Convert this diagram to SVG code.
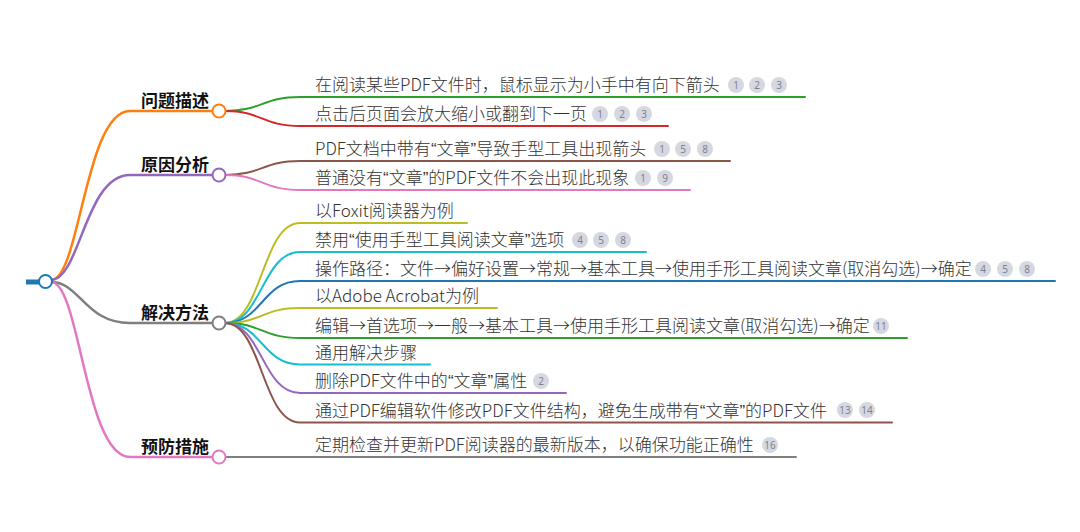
<svg xmlns="http://www.w3.org/2000/svg" width="1080" height="532" viewBox="0 0 1080 532">
<style>
.t{font-family:"Noto Sans CJK SC","Noto Sans",sans-serif;font-size:17px;fill:#333;font-weight:300}
.q{font-family:"Liberation Sans",sans-serif}
.b{font-family:"Noto Sans CJK SC","Noto Sans",sans-serif;font-size:17px;fill:#111;font-weight:700;text-anchor:end}
.c{fill:none;stroke-width:2;stroke-linecap:round}
.m{fill:none;stroke-width:2.5;stroke-linecap:round}
.n{fill:#fff;stroke-width:2}
.bd circle{fill:#d5d8e0}
.bd text{font-family:"Noto Sans","Liberation Sans",sans-serif;font-size:10px;fill:#7d8290;text-anchor:middle}
</style>
<rect width="1080" height="532" fill="#fff"/>
<g id="connectors">
<path class="m" stroke="#ff7f0e" d="M51,280 C80,280 85,111 130,111 L213,111"/>
<path class="m" stroke="#9467bd" d="M51,280 C80,280 85,175 130,175 L213,175"/>
<path class="m" stroke="#7f7f7f" d="M51,282 C80,282 85,323 130,323 L213,323"/>
<path class="m" stroke="#e377c2" d="M51,282 C80,282 85,457 130,457 L213,457"/>
<path class="c" stroke="#2ca02c" d="M225,111 C262,111 262,97 300,97 L805,97"/>
<path class="c" stroke="#d62728" d="M225,111 C262,111 262,126 300,126 L668,126"/>
<path class="c" stroke="#8c564b" d="M225,175 C262,175 262,161 300,161 L730,161"/>
<path class="c" stroke="#e377c2" d="M225,175 C262,175 262,190 300,190 L690,190"/>
<path class="c" stroke="#bcbd22" d="M225,323 C262,323 262,223 300,223 L467,223"/>
<path class="c" stroke="#17becf" d="M225,323 C262,323 262,252 300,252 L646,252"/>
<path class="c" stroke="#1f77b4" d="M225,323 C262,323 262,281 300,281 L1055,281"/>
<path class="c" stroke="#bcbd22" d="M225,323 C262,323 262,308 300,308 L497,308"/>
<path class="c" stroke="#2ca02c" d="M225,323 C262,323 262,338 300,338 L907,338"/>
<path class="c" stroke="#17becf" d="M225,323 C262,323 262,364.5 300,364.5 L430,364.5"/>
<path class="c" stroke="#9467bd" d="M225,323 C262,323 262,393 300,393 L566,393"/>
<path class="c" stroke="#8c564b" d="M225,323 C262,323 262,422.5 300,422.5 L892,422.5"/>
<path class="c" stroke="#7f7f7f" d="M225,457 L796,457"/>
</g>
<g id="root">
<line x1="26" y1="282" x2="39" y2="282" stroke="#1f77b4" stroke-width="5"/>
<circle class="n" cx="45.5" cy="281.5" r="6.5" stroke="#1f77b4"/>
</g>
<g id="b1"><text class="b" x="209" y="107">问题描述</text><circle class="n" cx="219" cy="111" r="6.5" stroke="#ff7f0e"/></g>
<g id="b2"><text class="b" x="209" y="171">原因分析</text><circle class="n" cx="219" cy="175" r="6.5" stroke="#9467bd"/></g>
<g id="b3"><text class="b" x="209" y="319">解决方法</text><circle class="n" cx="219" cy="323" r="6.5" stroke="#7f7f7f"/></g>
<g id="b4"><text class="b" x="209" y="453">预防措施</text><circle class="n" cx="219" cy="457" r="6.5" stroke="#e377c2"/></g>

<g id="n1"><text class="t" x="315" y="91">在阅读某些PDF文件时，鼠标显示为小手中有向下箭头</text>
<g class="bd"><circle cx="736" cy="85" r="8"/><text x="736" y="88.5">1</text><circle cx="757" cy="85" r="8"/><text x="757" y="88.5">2</text><circle cx="779" cy="85" r="8"/><text x="779" y="88.5">3</text></g></g>
<g id="n2"><text class="t" x="315" y="120">点击后页面会放大缩小或翻到下一页</text>
<g class="bd"><circle cx="600" cy="114" r="8"/><text x="600" y="117.5">1</text><circle cx="622" cy="114" r="8"/><text x="622" y="117.5">2</text><circle cx="644" cy="114" r="8"/><text x="644" y="117.5">3</text></g></g>
<g id="n3"><text class="t" x="315" y="155">PDF文档中带有<tspan class="q">“</tspan>文章<tspan class="q">”</tspan>导致手型工具出现箭头</text>
<g class="bd"><circle cx="662" cy="149" r="8"/><text x="662" y="152.5">1</text><circle cx="683" cy="149" r="8"/><text x="683" y="152.5">5</text><circle cx="705" cy="149" r="8"/><text x="705" y="152.5">8</text></g></g>
<g id="n4"><text class="t" x="315" y="184">普通没有<tspan class="q">“</tspan>文章<tspan class="q">”</tspan>的PDF文件不会出现此现象</text>
<g class="bd"><circle cx="643" cy="178" r="8"/><text x="643" y="181.5">1</text><circle cx="665" cy="178" r="8"/><text x="665" y="181.5">9</text></g></g>
<g id="n5"><text class="t" x="315" y="217">以Foxit阅读器为例</text></g>
<g id="n6"><text class="t" x="315" y="246">禁用<tspan class="q">“</tspan>使用手型工具阅读文章<tspan class="q">”</tspan>选项</text>
<g class="bd"><circle cx="580" cy="240" r="8"/><text x="580" y="243.5">4</text><circle cx="601" cy="240" r="8"/><text x="601" y="243.5">5</text><circle cx="623" cy="240" r="8"/><text x="623" y="243.5">8</text></g></g>
<g id="n7"><text class="t" x="315" y="275">操作路径：文件→偏好设置→常规→基本工具→使用手形工具阅读文章(取消勾选)→确定</text>
<g class="bd"><circle cx="983" cy="269" r="8"/><text x="983" y="272.5">4</text><circle cx="1005" cy="269" r="8"/><text x="1005" y="272.5">5</text><circle cx="1027" cy="269" r="8"/><text x="1027" y="272.5">8</text></g></g>
<g id="n8"><text class="t" x="315" y="302">以Adobe Acrobat为例</text></g>
<g id="n9"><text class="t" x="315" y="332">编辑→首选项→一般→基本工具→使用手形工具阅读文章(取消勾选)→确定</text>
<g class="bd"><circle cx="881" cy="326" r="8"/><text x="881" y="329.5">11</text></g></g>
<g id="n10"><text class="t" x="315" y="358.5">通用解决步骤</text></g>
<g id="n11"><text class="t" x="315" y="387">删除PDF文件中的<tspan class="q">“</tspan>文章<tspan class="q">”</tspan>属性</text>
<g class="bd"><circle cx="541" cy="381" r="8"/><text x="541" y="384.5">2</text></g></g>
<g id="n12"><text class="t" x="315" y="416.5">通过PDF编辑软件修改PDF文件结构，避免生成带有<tspan class="q">“</tspan>文章<tspan class="q">”</tspan>的PDF文件</text>
<g class="bd"><circle cx="845" cy="410" r="8"/><text x="845" y="413.5">13</text><circle cx="867" cy="410" r="8"/><text x="867" y="413.5">14</text></g></g>
<g id="n13"><text class="t" x="315" y="451">定期检查并更新PDF阅读器的最新版本，以确保功能正确性</text>
<g class="bd"><circle cx="770" cy="445" r="8"/><text x="770" y="448.5">16</text></g></g>
</svg>
